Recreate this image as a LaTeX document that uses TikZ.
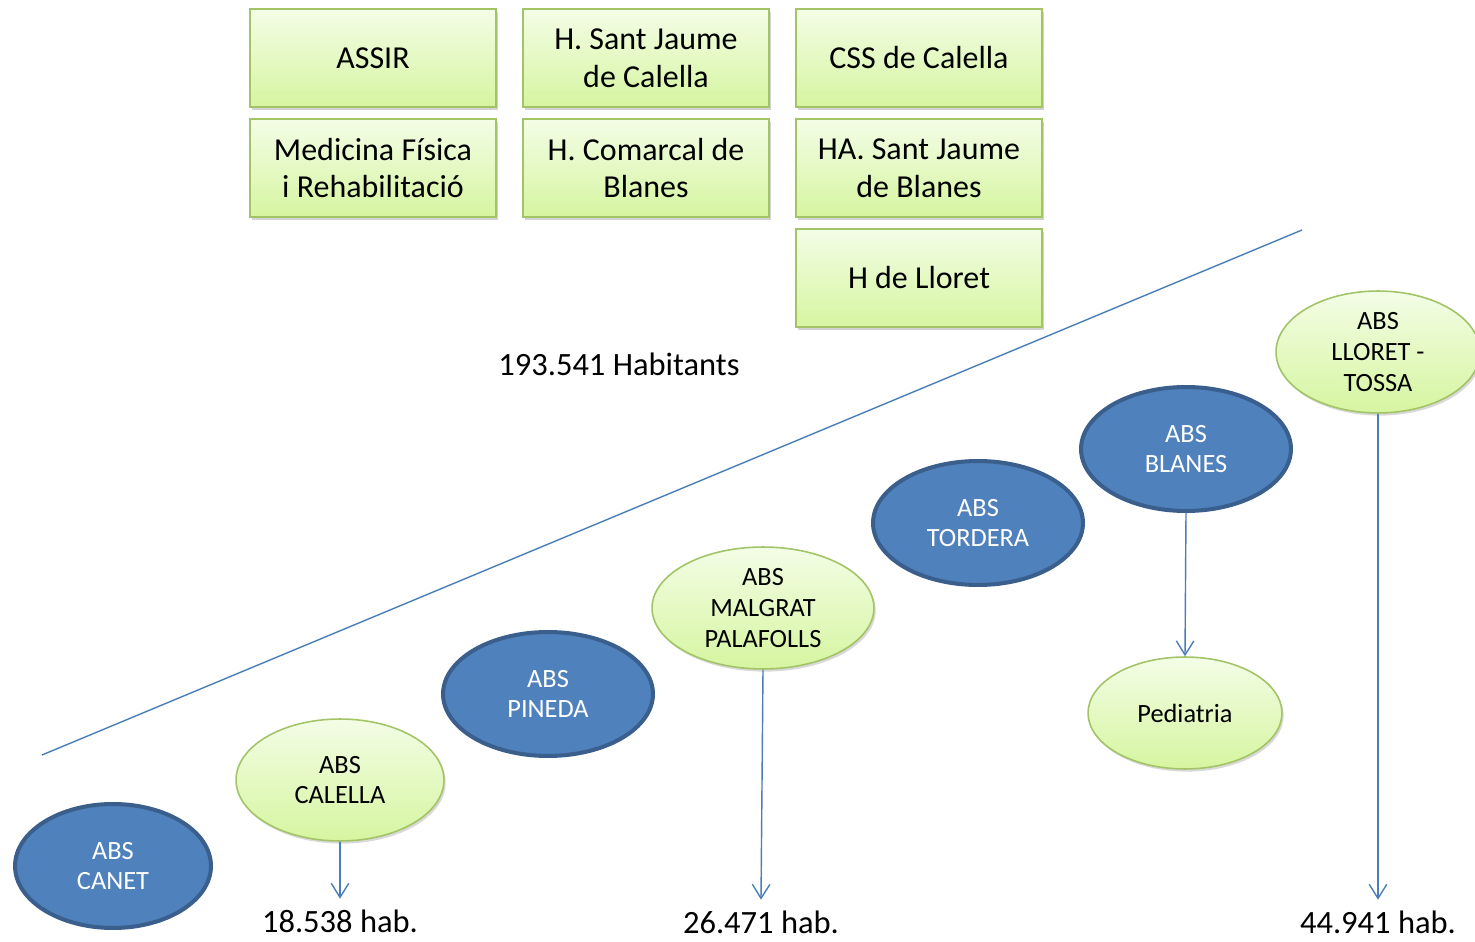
\documentclass[tikz,border=0pt]{standalone}
\usepackage{fontspec}
\setmainfont{Carlito}
\usepackage{tikz}
\usetikzlibrary{shapes.geometric, arrows.meta, shadows}
\definecolor{boxtop}{HTML}{F3FDE6}
\definecolor{boxbot}{HTML}{D6F5A0}
\definecolor{greenline}{HTML}{A2C466}
\definecolor{absblue}{HTML}{4F81BD}
\definecolor{absedge}{HTML}{3A5F8C}
\definecolor{linkblue}{HTML}{4A7EBB}

\begin{document}
\begin{tikzpicture}[x=0.02cm, y=-0.02cm,
  unitbox/.style={draw=greenline, line width=0.9pt, top color=boxtop, bottom color=boxbot,
    minimum width=4.92cm, minimum height=1.96cm, align=center, inner sep=0pt,
    font=\fontsize{18.2}{21.5}\selectfont,
    drop shadow={opacity=0.35, shadow xshift=1.2pt, shadow yshift=-1.8pt}},
  sz/.style 2 args={minimum width={#1*0.04cm}, minimum height={#2*0.04cm}},
  absgreen/.style={ellipse, draw=greenline, line width=0.9pt, top color=boxtop, bottom color=boxbot,
    align=center, inner sep=0pt, font=\fontsize{15}{17.5}\selectfont,
    drop shadow={opacity=0.3, shadow xshift=1pt, shadow yshift=-1.5pt}},
  absblue/.style={ellipse, draw=absedge, line width=2.3pt, fill=absblue, text=white,
    align=center, inner sep=0pt, font=\fontsize{15}{17.5}\selectfont},
  hab/.style={font=\fontsize{18.5}{21.5}\selectfont, inner sep=0pt},
  link/.style={draw=linkblue, line width=0.8pt, -{Straight Barb[length=8pt, width=10pt]}}]
\useasboundingbox (0,0) rectangle (1475,942);
% services
\node[unitbox] (assir) at (373,58) {ASSIR};
\node[unitbox] (hsjc) at (646,58) {H. Sant Jaume\\de Calella};
\node[unitbox] (cssc) at (919,58) {CSS de Calella};
\node[unitbox] (mfr) at (373,168) {Medicina Física\\i Rehabilitació};
\node[unitbox] (hcb) at (646,168) {H. Comarcal de\\Blanes};
\node[unitbox] (hasjb) at (919,168) {HA. Sant Jaume\\de Blanes};
\node[unitbox] (hll) at (919,278) {H de Lloret};
% population line
\coordinate (lineA) at (42,755);
\coordinate (lineB) at (1302,230);
\draw[linkblue, line width=0.8pt] (lineA) -- (lineB);
\node[hab] (total) at (619,364) {193.541 Habitants};
% areas
\node[absblue, sz={98}{62}] (canet) at (113,866) {ABS\\CANET};
\node[absgreen, sz={104}{61}] (calella) at (340,780) {ABS\\CALELLA};
\node[absblue, sz={105}{62}] (pineda) at (548,694) {ABS\\PINEDA};
\node[absgreen, sz={111}{61}] (malgrat) at (763,608) {ABS\\MALGRAT\\PALAFOLLS};
\node[absblue, sz={105}{62}] (tordera) at (978,523) {ABS\\TORDERA};
\node[absblue, sz={105}{62}] (blanes) at (1186,449) {ABS\\BLANES};
\node[absgreen, sz={102}{61}] (lloret) at (1378,352) {ABS\\LLORET -\\TOSSA};
\node[absgreen, sz={97}{56}] (ped) at (1185,713) {Pediatria};
% inhabitants
\node[hab] (habA) at (340,921) {18.538 hab.};
\node[hab] (habB) at (761,922) {26.471 hab.};
\node[hab] (habC) at (1378,922) {44.941 hab.};
\draw[link] (calella.south) -- ([yshift=6pt]habA.north);
\draw[link] (malgrat.south) -- ([yshift=6pt]habB.north);
\draw[link] (lloret.south) -- ([yshift=6pt]habC.north);
\draw[link] (blanes.south) -- (ped.north);
\end{tikzpicture}
\end{document}
